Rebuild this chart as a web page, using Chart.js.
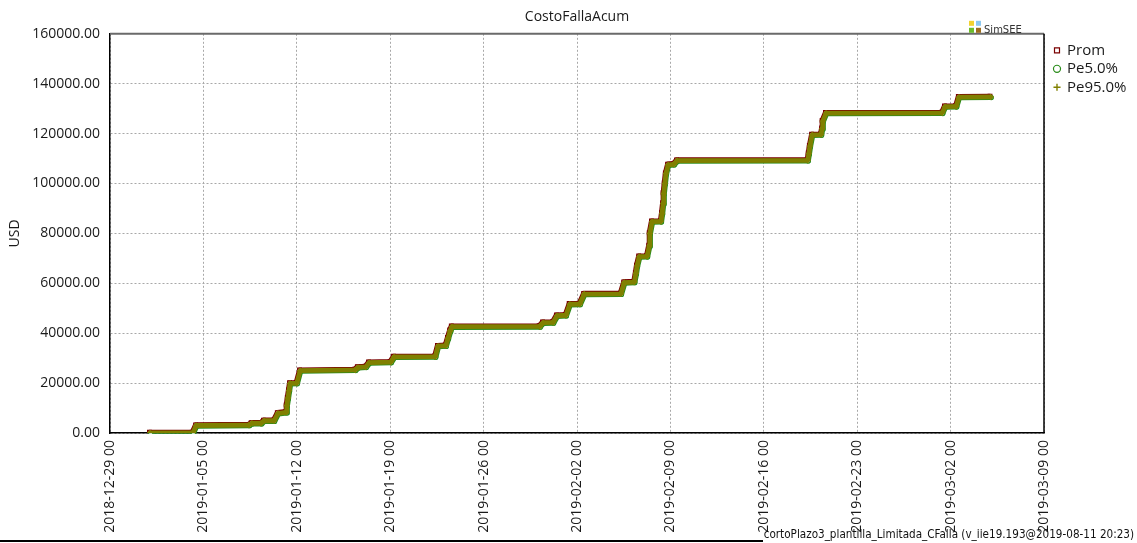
<!DOCTYPE html>
<html>
<head>
<meta charset="utf-8">
<title>CostoFallaAcum</title>
<script src="https://cdn.jsdelivr.net/npm/chart.js@4.4.1/dist/chart.umd.min.js"></script>
<style>
  html, body { margin: 0; padding: 0; background: #fff; }
  #caja { width: 1137px; height: 543px; position: relative; }
</style>
</head>
<body>
<div id="caja"><canvas id="grafico"></canvas></div>
<script>
// --- datos: costo de falla acumulado (USD), paso horario ---
const origen = '2018-12-29 00:00';

const etiquetasX = [
  '2018-12-29 00', '2019-01-05 00', '2019-01-12 00', '2019-01-19 00',
  '2019-01-26 00', '2019-02-02 00', '2019-02-09 00', '2019-02-16 00',
  '2019-02-23 00', '2019-03-02 00', '2019-03-09 00'
];

const fechas = [
  '2019-01-01 00:00', '2019-01-04 05:00', '2019-01-04 11:00', '2019-01-08 10:00',
  '2019-01-08 15:00', '2019-01-09 08:00', '2019-01-09 13:00', '2019-01-10 07:00',
  '2019-01-10 14:00', '2019-01-11 05:00', '2019-01-11 06:00', '2019-01-11 08:00',
  '2019-01-11 10:00', '2019-01-11 12:00', '2019-01-12 00:00', '2019-01-12 06:00',
  '2019-01-16 09:00', '2019-01-16 14:00', '2019-01-17 04:00', '2019-01-17 10:00',
  '2019-01-19 01:00', '2019-01-19 07:00', '2019-01-22 09:00', '2019-01-22 14:00',
  '2019-01-23 04:00', '2019-01-23 08:00', '2019-01-23 12:00', '2019-01-23 15:00',
  '2019-01-30 05:00', '2019-01-30 11:00', '2019-01-31 05:00', '2019-01-31 12:00',
  '2019-02-01 04:00', '2019-02-01 11:00', '2019-02-02 05:00', '2019-02-02 13:00',
  '2019-02-05 07:00', '2019-02-05 13:00', '2019-02-06 07:00', '2019-02-06 10:00',
  '2019-02-06 12:00', '2019-02-06 16:00', '2019-02-07 06:00', '2019-02-07 10:00',
  '2019-02-07 11:00', '2019-02-07 15:00', '2019-02-08 07:00', '2019-02-08 09:00',
  '2019-02-08 11:00', '2019-02-08 12:00', '2019-02-08 14:00', '2019-02-08 16:00',
  '2019-02-08 20:00', '2019-02-09 06:00', '2019-02-09 12:00', '2019-02-19 07:00',
  '2019-02-19 09:00', '2019-02-19 11:00', '2019-02-19 15:00', '2019-02-20 07:00',
  '2019-02-20 09:00', '2019-02-20 10:00', '2019-02-20 16:00', '2019-03-01 09:00',
  '2019-03-01 14:00', '2019-03-02 10:00', '2019-03-02 15:00', '2019-03-05 00:00'
];

const usdProm = [
  0, 0, 3000, 3200,
  3900, 3900, 4900, 4900,
  7900, 8300, 11000, 14000,
  17000, 19900, 20000, 25000,
  25300, 26300, 26500, 28200,
  28400, 30500, 30600, 34800,
  35000, 38000, 41000, 42600,
  42700, 44200, 44300, 47000,
  47200, 51600, 51700, 55700,
  55800, 60300, 60500, 64000,
  67000, 70700, 70800, 75000,
  80000, 84700, 84800, 88000,
  92000, 96000, 100000, 104000,
  107500, 107700, 109200, 109300,
  112000, 115000, 119500, 119600,
  122000, 125000, 128200, 128300,
  130800, 130900, 134600, 134700
];
// una sola crónica: los percentiles coinciden con el promedio
const usdPe5 = usdProm;
const usdPe95 = usdProm;

// fecha 'AAAA-MM-DD hh:mm' -> días desde el origen del eje
function aDias(s) {
  const [f, h] = s.split(' ');
  const [a, m, d] = f.split('-').map(Number);
  const [hh, mm] = h.split(':').map(Number);
  return Date.UTC(a, m - 1, d, hh, mm) / 86400000;
}
const dia0 = aDias(origen);
const serie = vals => fechas.map((f, i) => ({ x: aDias(f) - dia0, y: vals[i] }));

const fuente = { family: 'Open Sans', size: 14 };
const tinta = '#1a1a1a';
const ANCHO_LEYENDA = 93;

// leyenda de ancho fijo, corrida un poco hacia la derecha del área de trazado
const leyendaFija = {
  id: 'leyendaFija',
  beforeLayout(chart) {
    const lg = chart.legend;
    if (lg && !lg._fitBase) {
      lg._fitBase = lg.fit;
      lg.fit = function () { this._fitBase(); this.width = ANCHO_LEYENDA; };
    }
  },
  afterLayout(chart) {
    if (chart.legend) chart.legend.left = chart.chartArea.right + 7;
  }
};

// dibuja cada curva un poco corrida, como los marcadores superpuestos del SimSEE
const marco = {
  id: 'marco',
  beforeDatasetDraw(chart, args) {
    const c = chart.data.datasets[args.index].corrimiento;
    if (!c) return;
    chart.ctx.save();
    chart.ctx.translate(c[0], c[1]);
  },
  afterDatasetDraw(chart, args) {
    if (chart.data.datasets[args.index].corrimiento) chart.ctx.restore();
  },
  afterDraw(chart) {
    const { ctx, chartArea: a } = chart;
    ctx.save();
    // borde superior gris y derecho negro
    ctx.strokeStyle = '#6a6a6a'; ctx.lineWidth = 2;
    ctx.beginPath(); ctx.moveTo(a.left, a.top); ctx.lineTo(a.right, a.top); ctx.stroke();
    ctx.strokeStyle = '#000'; ctx.lineWidth = 1.5;
    ctx.beginPath(); ctx.moveTo(a.right, a.top); ctx.lineTo(a.right, a.bottom); ctx.stroke();

    // logo SimSEE
    const lx = a.right - 75, ly = a.top - 13;
    [['#f2d230', 0, 0], ['#8cc8f0', 7, 0], ['#6cbc2c', 0, 7], ['#9c6c1c', 7, 7]].forEach(([col, dx, dy]) => {
      ctx.fillStyle = col; ctx.fillRect(lx + dx, ly + dy, 5, 5);
    });
    ctx.fillStyle = '#333';
    ctx.font = '10px "DejaVu Sans"';
    ctx.textBaseline = 'alphabetic';
    ctx.fillText('SimSEE', lx + 15, ly + 12);

    // pie con el nombre de la corrida
    ctx.fillStyle = '#111';
    ctx.font = '11.6px "Liberation Sans Narrow", "DejaVu Sans Condensed"';
    ctx.textAlign = 'right';
    ctx.fillText('cortoPlazo3_plantilla_Limitada_CFalla (v_iie19.193@2019-08-11 20:23)', chart.width - 3, chart.height - 5);

    ctx.strokeStyle = '#000'; ctx.lineWidth = 2;
    ctx.beginPath(); ctx.moveTo(0, chart.height - 2); ctx.lineTo(763, chart.height - 2); ctx.stroke();
    ctx.restore();
  }
};

new Chart(document.getElementById('grafico'), {
  type: 'line',
  data: {
    datasets: [
      {
        label: 'Prom', data: serie(usdProm), order: 3, corrimiento: [-0.6, -0.7],
        borderColor: '#7a0000', borderWidth: 5,
        pointStyle: 'rect', pointRadius: 2.6, pointBorderWidth: 1.2,
        pointBorderColor: '#7a0000', pointBackgroundColor: 'rgba(255,255,255,0.6)'
      },
      {
        label: 'Pe5.0%', data: serie(usdPe5), order: 2, corrimiento: [0.6, 0.7],
        borderColor: '#2a8c1a', borderWidth: 5,
        pointStyle: 'circle', pointRadius: 2, pointBorderWidth: 1.2,
        pointBorderColor: '#2a8c1a', pointBackgroundColor: '#ffffff'
      },
      {
        label: 'Pe95.0%', data: serie(usdPe95), order: 1,
        borderColor: '#808000', borderWidth: 4.8,
        pointStyle: 'cross', pointRadius: 3, pointBorderWidth: 1.4,
        pointBorderColor: '#808000', pointBackgroundColor: '#808000'
      }
    ]
  },
  options: {
    responsive: true, maintainAspectRatio: false, animation: false,
    layout: { padding: 0 },
    elements: { line: { tension: 0, borderJoinStyle: 'round', borderCapStyle: 'round' } },
    plugins: {
      tooltip: { enabled: false },
      title: {
        display: true, text: 'CostoFallaAcum', fullSize: false, color: tinta,
        font: { family: 'Open Sans', size: 14, weight: 'normal' },
        padding: { top: 9, bottom: 8 }
      },
      legend: {
        position: 'right', align: 'start', fullSize: false,
        title: { display: true, text: '', font: { size: 1 }, padding: { top: 4.3, bottom: 0 } },
        labels: {
          usePointStyle: true, boxWidth: 5, boxHeight: 5, padding: 3.5, color: tinta,
          font: { family: 'Open Sans', size: 15 },
          sort: (p, q) => p.datasetIndex - q.datasetIndex
        }
      }
    },
    scales: {
      x: {
        type: 'linear', min: 0, max: 70,
        ticks: {
          stepSize: 7, autoSkip: false, minRotation: 90, maxRotation: 90, padding: 7,
          color: tinta, font: fuente,
          callback: (v, i) => etiquetasX[i]
        },
        grid: { color: '#a8a8a8', drawTicks: false },
        border: { color: '#000', width: 1.5, dash: [2, 2] },
        afterFit: s => { s.height = 110; }
      },
      y: {
        min: 0, max: 160000,
        ticks: { stepSize: 20000, padding: 10, color: tinta, font: fuente, callback: v => v.toFixed(2) },
        grid: { color: '#a8a8a8', drawTicks: false },
        border: { color: '#000', width: 1.5, dash: [2, 2] },
        title: { display: true, text: 'USD', color: tinta, font: fuente, padding: { top: 7, bottom: 0 } },
        afterFit: s => { s.width = 110; }
      }
    }
  },
  plugins: [leyendaFija, marco]
});
</script>
</body>
</html>
